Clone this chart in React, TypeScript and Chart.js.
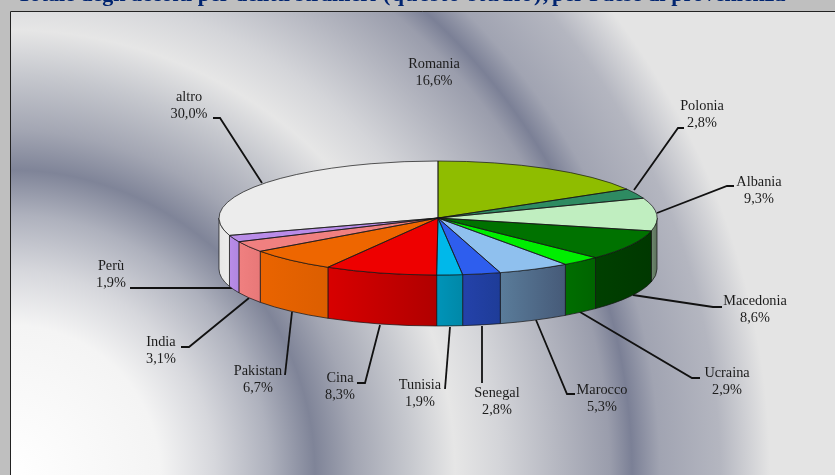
import React, { useEffect, useRef } from "react";
import { Chart, registerables } from "chart.js";

Chart.register(...registerables);

const categories = ["Romania", "Polonia", "Albania", "Macedonia", "Ucraina", "Marocco", "Senegal", "Tunisia", "Cina", "Pakistan", "India", "Perù", "altro"];
const shares = [16.6, 2.8, 9.3, 8.6, 2.9, 5.3, 2.8, 1.9, 8.3, 6.7, 3.1, 1.9, 30.0];
const shareLabels = ["16,6%", "2,8%", "9,3%", "8,6%", "2,9%", "5,3%", "2,8%", "1,9%", "8,3%", "6,7%", "3,1%", "1,9%", "30,0%"];
const titleParts = ["Totale degli accolti per delitti stranieri", "(questo studio),", "per Paese di provenienza"];
const titleX = [17, 383, 552];
const titleSpacing = ["0px", "1.4px", "0px"];

const topColors = ["#8fbd00", "#2e8b62", "#c0eec0", "#007200", "#00ee00", "#8fc0ee", "#2e5eee", "#00b8ea", "#ee0000", "#ee6600", "#f08080", "#b98ce8", "#ececec"];
const wallFrom = ["#6f9400", "#246c4c", "#6f8a6f", "#004000", "#006e00", "#5a7c9a", "#2442aa", "#0094b8", "#d80000", "#ea6400", "#f08080", "#b98ce8", "#e6e6e6"];
const wallTo = ["#6f9400", "#246c4c", "#5c705c", "#003800", "#006400", "#465a78", "#1e3c98", "#0088a8", "#b00000", "#dc5e00", "#e87878", "#b086e0", "#ececec"];

// label centre x, first-line y
const labelPos = [[434, 64], [702, 106], [759, 182], [755, 301], [727, 373], [602, 390], [497, 393], [420, 385], [340, 378], [258, 371], [161, 342], [111, 266], [189, 97]];
// leader polylines from label towards the pie
const leaders: number[][][] = [
  [],
  [[684, 128], [678, 128], [634, 190]],
  [[734, 186], [727, 186], [657, 213]],
  [[722, 307], [713, 307], [633, 295]],
  [[700, 378], [692, 378], [580, 312]],
  [[575, 394], [567, 394], [536, 320]],
  [[482, 383], [482, 326]],
  [[445, 389], [450, 327]],
  [[357, 383], [365, 383], [380, 325]],
  [[285, 375], [292, 312]],
  [[181, 347], [189, 347], [249, 298]],
  [[130, 288], [232, 288]],
  [[213, 118], [220, 118], [262, 183]],
];

const CY_TOP = 218;
const RY = 57;
const DEPTH = 51;

const pie3d = {
  id: "pie3d",
  beforeDraw(chart: any) {
    const ctx = chart.ctx;
    const W = chart.width, H = chart.height;
    ctx.save();
    ctx.fillStyle = "#bfbfbf";
    ctx.fillRect(0, 0, W, H);
    ctx.fillStyle = "#002470";
    ctx.font = 'bold 22px "Liberation Serif"';
    ctx.textAlign = "left";
    ctx.textBaseline = "alphabetic";
    titleParts.forEach((t, i) => {
      ctx.letterSpacing = titleSpacing[i];
      ctx.fillText(t, titleX[i], 1);
    });
    ctx.letterSpacing = "0px";
    const R = 900;
    const g = ctx.createRadialGradient(10, 475, 0, 10, 475, R);
    const stops: [number, string][] = [
      [0, "#ffffff"], [150, "#f4f4f4"], [205, "#d6d7dc"], [260, "#aeb1bd"], [305, "#7f8498"], [345, "#a3a6b3"],
      [400, "#c6c8ce"], [445, "#e6e6e6"], [490, "#d4d5d9"], [550, "#b4b6c0"], [600, "#9a9dac"], [622, "#7b8096"], [650, "#a1a4b2"],
      [710, "#b4b6c0"], [760, "#e4e4e4"], [900, "#e4e4e4"],
    ];
    stops.forEach(([r, c]) => g.addColorStop(r / R, c));
    ctx.fillStyle = g;
    ctx.fillRect(10, 11, W - 10, H - 11);
    ctx.strokeStyle = "#222222";
    ctx.lineWidth = 1;
    ctx.beginPath();
    ctx.moveTo(10.5, H);
    ctx.lineTo(10.5, 11.5);
    ctx.lineTo(W, 11.5);
    ctx.stroke();

    ctx.strokeStyle = "#111111";
    ctx.lineWidth = 1.8;
    leaders.forEach((pts) => {
      if (!pts.length) return;
      ctx.beginPath();
      pts.forEach(([x, y], i) => (i ? ctx.lineTo(x, y) : ctx.moveTo(x, y)));
      ctx.stroke();
    });

    ctx.fillStyle = "#1c1c1c";
    ctx.font = '14.3px "Liberation Serif"';
    ctx.textAlign = "center";
    ctx.textBaseline = "middle";
    categories.forEach((c, i) => {
      const [x, y] = labelPos[i];
      ctx.fillText(c, x, y);
      ctx.fillText(shareLabels[i], x, y + 17);
    });
    ctx.restore();
  },
  beforeDatasetsDraw(chart: any) {
    const ctx = chart.ctx;
    const arcs = chart.getDatasetMeta(0).data;
    ctx.save();
    arcs.forEach((arc: any, i: number) => {
      const { x, startAngle, endAngle, outerRadius: R } = arc.getProps(["x", "startAngle", "endAngle", "outerRadius"]);
      const s = Math.max(startAngle, 0), e = Math.min(endAngle, Math.PI);
      if (e <= s) return;
      const g = ctx.createLinearGradient(x + R * Math.cos(e), 0, x + R * Math.cos(s), 0);
      g.addColorStop(0, wallFrom[i]);
      g.addColorStop(1, wallTo[i]);
      ctx.beginPath();
      ctx.ellipse(x, CY_TOP, R, RY, 0, s, e);
      ctx.ellipse(x, CY_TOP + DEPTH, R, RY, 0, e, s, true);
      ctx.closePath();
      ctx.fillStyle = g;
      ctx.fill();
      ctx.strokeStyle = "rgba(20,20,20,0.7)";
      ctx.lineWidth = 1;
      ctx.stroke();
    });
    ctx.restore();
    const a0 = arcs[0];
    ctx.save();
    ctx.translate(0, CY_TOP);
    ctx.scale(1, RY / a0.outerRadius);
    ctx.translate(0, -a0.y);
  },
  afterDatasetsDraw(chart: any) {
    const ctx = chart.ctx;
    ctx.restore();
    const arcs = chart.getDatasetMeta(0).data;
    ctx.save();
    ctx.strokeStyle = "rgba(20,20,20,0.7)";
    ctx.lineWidth = 1;
    arcs.forEach((arc: any) => {
      const { x, startAngle, endAngle, outerRadius: R } = arc.getProps(["x", "startAngle", "endAngle", "outerRadius"]);
      ctx.beginPath();
      ctx.moveTo(x, CY_TOP);
      ctx.ellipse(x, CY_TOP, R, RY, 0, startAngle, endAngle);
      ctx.closePath();
      ctx.stroke();
    });
    ctx.restore();
  },
};

export default function App() {
  const ref = useRef<HTMLCanvasElement>(null);
  useEffect(() => {
    const chart = new Chart(ref.current as HTMLCanvasElement, {
      type: "pie",
      data: {
        labels: categories,
        datasets: [{ data: shares, backgroundColor: topColors, borderWidth: 0 }],
      },
      options: {
        responsive: false,
        animation: false,
        layout: { padding: { left: 219, right: 178, top: 0, bottom: 37 } },
        plugins: { legend: { display: false }, tooltip: { enabled: false }, title: { display: false } },
      },
      plugins: [pie3d],
    } as any);
    return () => chart.destroy();
  }, []);
  return (
    <div style={{ position: "absolute", left: 0, top: 0, width: 835, height: 475 }}>
      <canvas ref={ref} width={835} height={475} style={{ display: "block" }} />
    </div>
  );
}
